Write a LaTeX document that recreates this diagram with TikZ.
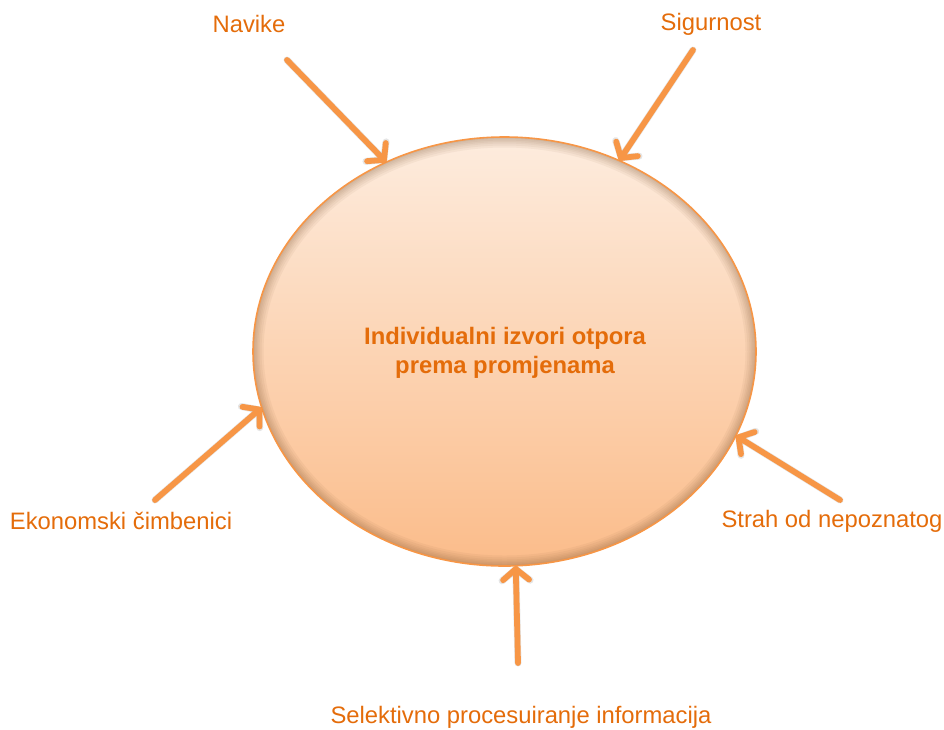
\documentclass[tikz,border=0pt]{standalone}
\usepackage{fontspec}
\setmainfont{Liberation Sans}
\usetikzlibrary{arrows.meta,shapes.geometric}
\definecolor{arr}{RGB}{247,150,70}
\definecolor{txt}{RGB}{228,108,10}
\definecolor{topc}{RGB}{253,236,222}
\definecolor{botc}{RGB}{251,188,138}
\definecolor{shad}{RGB}{120,80,45}
\tikzset{
  lbl/.style={text=txt,font=\fontsize{23.8}{28.6}\selectfont,inner sep=0pt},
  arrw/.style={draw=arr,line width=5.8pt,line cap=round,
    -{Straight Barb[length=11pt,width=26pt,round]}},
  arrshadow/.style={draw=black,opacity=0.1,line width=7pt,line cap=round,
    -{Straight Barb[length=11pt,width=28pt,round]}}
}
\begin{document}
\begin{tikzpicture}[x=1pt,y=-1pt]
\useasboundingbox (0,0) rectangle (944,729);
% main ellipse
\node[ellipse,minimum width=503pt,minimum height=429pt,inner sep=0pt,
      top color=topc,bottom color=botc] (c) at (504.5,351.5) {};
\begin{scope}
  \clip (504.5,351.5) ellipse [x radius=251.5pt,y radius=214.5pt];
  \foreach \w in {2,4,7,10,13,17,21}{
    \draw[shad,opacity=0.06,line width=\w pt] (504.5,351.5) ellipse [x radius=251.5pt,y radius=214.5pt];
  }
\end{scope}
\draw[arr,line width=1.6pt] (504.5,351.5) ellipse [x radius=251.5pt,y radius=214.5pt];
\node[text=txt,font=\bfseries\fontsize{23.8}{28.8}\selectfont,align=center,inner sep=0pt] (t) at (505,353)
  {Individualni izvori otpora\\prema promjenama};
% labels
\node[lbl] (navike) at (249,24) {Navike};
\node[lbl] (sig) at (711,24) {Sigurnost};
\node[lbl] (eko) at (121,521) {Ekonomski čimbenici};
\node[lbl] (strah) at (832,521) {Strah od nepoznatog};
\node[lbl] (sel) at (521,717) {Selektivno procesuiranje informacija};
% arrow tails
\coordinate (a1) at (287,60);
\coordinate (a2) at (693,50);
\coordinate (a3) at (155,500);
\coordinate (a4) at (840,500);
\coordinate (a5) at (518,663);
% shadows
\begin{scope}[shift={(2,3)}]
\draw[arrshadow] (a1) -- (c.122.5);
\draw[arrshadow] (a2) -- (c.59.1);
\draw[arrshadow] (a3) -- (c.193);
\draw[arrshadow] (a4) -- (c.340.2);
\draw[arrshadow] (a5) -- (c.273.6);
\end{scope}
% arrows
\draw[arrw] (a1) -- (c.122.5);
\draw[arrw] (a2) -- (c.59.1);
\draw[arrw] (a3) -- (c.193);
\draw[arrw] (a4) -- (c.340.2);
\draw[arrw] (a5) -- (c.273.6);
\end{tikzpicture}
\end{document}
